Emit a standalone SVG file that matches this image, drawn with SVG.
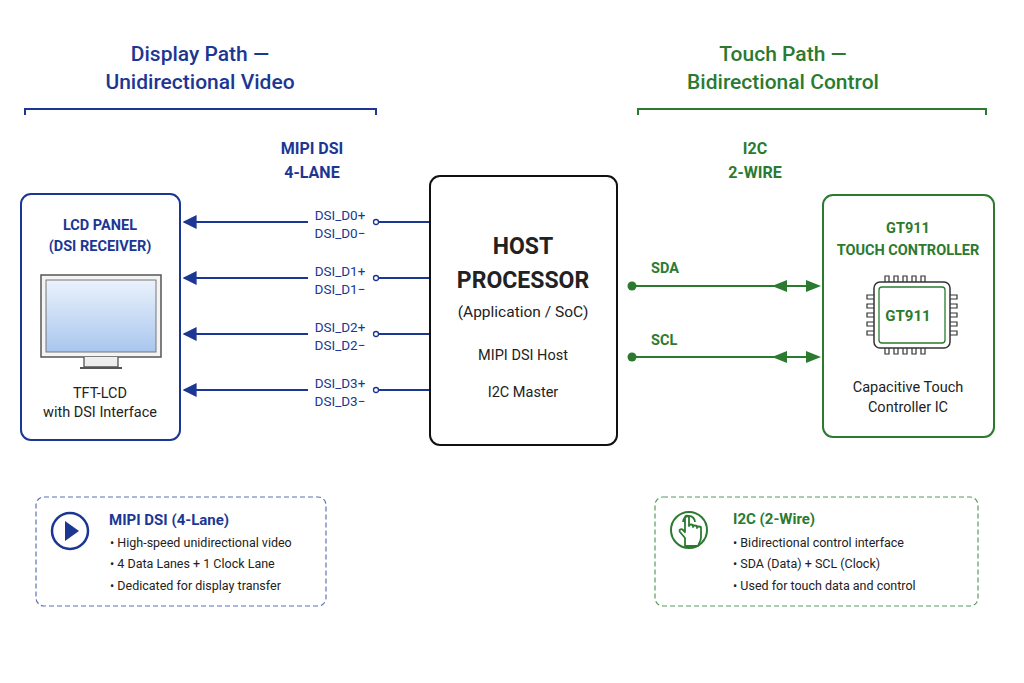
<svg xmlns="http://www.w3.org/2000/svg" width="1024" height="683" viewBox="0 0 1024 683">
<style>
text{font-family:Roboto,"Liberation Sans",sans-serif}
.b{fill:#1c3793}.g{fill:#2b7a30}.k{fill:#222}
.hb{font-size:21px;font-weight:500}
.lb{font-size:16px;font-weight:700}
.sm{font-size:13.5px}
.tx{font-size:14.5px}
.bl{stroke:#1c3793}.gl{stroke:#2b7a30}
</style>
<defs>
<marker id="ab" viewBox="0 0 10 10" refX="9" refY="5" markerWidth="14" markerHeight="14" markerUnits="userSpaceOnUse" orient="auto-start-reverse"><path d="M0,0L10,5L0,10z" fill="#1c3793"/></marker>
<linearGradient id="scr" x1="0" y1="0" x2="0" y2="1"><stop offset="0" stop-color="#eaf2fc"/><stop offset="1" stop-color="#a9c6ee"/></linearGradient>
</defs>
<rect width="1024" height="683" fill="#fff"/>
<g id="headers">
<text x="200" y="61" text-anchor="middle" class="b hb">Display Path —</text>
<text x="200" y="89" text-anchor="middle" class="b hb">Unidirectional Video</text>
<path d="M25,115V109H376V115" fill="none" class="bl" stroke-width="2"/>
<text x="783" y="61" text-anchor="middle" class="g hb">Touch Path —</text>
<text x="783" y="89" text-anchor="middle" class="g hb">Bidirectional Control</text>
<path d="M638,115V109H986V115" fill="none" class="gl" stroke-width="2"/>
<text x="312" y="154" text-anchor="middle" class="b lb">MIPI DSI</text>
<text x="312" y="178" text-anchor="middle" class="b lb">4-LANE</text>
<text x="755" y="154" text-anchor="middle" class="g lb">I2C</text>
<text x="755" y="178" text-anchor="middle" class="g lb">2-WIRE</text>
</g>
<g id="connectors" fill="none" stroke-width="2">
<g class="bl">
<path d="M308,222H184" marker-end="url(#ab)"/><path d="M379,222H430"/>
<path d="M308,278H184" marker-end="url(#ab)"/><path d="M379,278H430"/>
<path d="M308,334H184" marker-end="url(#ab)"/><path d="M379,334H430"/>
<path d="M308,390H184" marker-end="url(#ab)"/><path d="M379,390H430"/>
<circle cx="376" cy="222" r="2.5" fill="#fff" stroke-width="1.3"/>
<circle cx="376" cy="278" r="2.5" fill="#fff" stroke-width="1.3"/>
<circle cx="376" cy="334" r="2.5" fill="#fff" stroke-width="1.3"/>
<circle cx="376" cy="390" r="2.5" fill="#fff" stroke-width="1.3"/>
</g>
<g class="b sm">
<text x="340" y="220" text-anchor="middle" stroke="none">DSI_D0+</text><text x="340" y="238" text-anchor="middle" stroke="none">DSI_D0−</text>
<text x="340" y="276" text-anchor="middle" stroke="none">DSI_D1+</text><text x="340" y="294" text-anchor="middle" stroke="none">DSI_D1−</text>
<text x="340" y="332" text-anchor="middle" stroke="none">DSI_D2+</text><text x="340" y="350" text-anchor="middle" stroke="none">DSI_D2−</text>
<text x="340" y="388" text-anchor="middle" stroke="none">DSI_D3+</text><text x="340" y="406" text-anchor="middle" stroke="none">DSI_D3−</text>
</g>
<g class="gl">
<path d="M632,286H815"/>
<path d="M632,357H815"/>
</g>
<g fill="#2b7a30">
<path d="M772,286L787,280V292z"/><path d="M821,286L806,280V292z"/>
<path d="M772,357L787,351V363z"/><path d="M821,357L806,351V363z"/>
<circle cx="632" cy="286" r="4.5"/>
<circle cx="632" cy="357" r="4.5"/>
</g>
<text x="651" y="273" class="g" font-size="14.5" font-weight="700">SDA</text>
<text x="651" y="345" class="g" font-size="14.5" font-weight="700">SCL</text>
</g>
<g id="lcd">
<rect x="21" y="194" width="159" height="246" rx="10" fill="#fff" class="bl" stroke-width="2"/>
<text x="100" y="230" text-anchor="middle" class="b" font-size="14.5" font-weight="700">LCD PANEL</text>
<text x="100" y="251" text-anchor="middle" class="b" font-size="14.5" font-weight="700">(DSI RECEIVER)</text>
<rect x="41" y="275" width="120" height="82" fill="#f4f4f4" stroke="#555" stroke-width="1.5"/>
<rect x="46" y="280" width="110" height="72" fill="url(#scr)" stroke="#777" stroke-width="1"/>
<path d="M84,357V367H118V357" fill="#eee" stroke="#555" stroke-width="1.3"/>
<path d="M80,368H122" stroke="#555" stroke-width="2"/>
<text x="100" y="398" text-anchor="middle" class="k tx">TFT-LCD</text>
<text x="100" y="417" text-anchor="middle" class="k tx">with DSI Interface</text>
</g>
<g id="host">
<rect x="430" y="176" width="187" height="269" rx="10" fill="#fff" stroke="#111" stroke-width="2"/>
<text x="523" y="254" text-anchor="middle" class="k" font-size="23" font-weight="700">HOST</text>
<text x="523" y="288" text-anchor="middle" class="k" font-size="23" font-weight="700">PROCESSOR</text>
<text x="523" y="317" text-anchor="middle" class="k" font-size="15.5">(Application / SoC)</text>
<text x="523" y="360" text-anchor="middle" class="k" font-size="14.5">MIPI DSI Host</text>
<text x="523" y="397" text-anchor="middle" class="k" font-size="14.5">I2C Master</text>
</g>
<g id="touch">
<rect x="823" y="195" width="171" height="242" rx="10" fill="#fff" class="gl" stroke-width="2"/>
<text x="908" y="233" text-anchor="middle" class="g" font-size="14.5" font-weight="700">GT911</text>
<text x="908" y="255" text-anchor="middle" class="g" font-size="14.5" font-weight="700">TOUCH CONTROLLER</text>
<g fill="#fff" stroke="#333" stroke-width="1.2">
<path d="M885,282v-6h4v6M894,282v-6h4v6M903,282v-6h4v6M912,282v-6h4v6M921,282v-6h4v6"/>
<path d="M885,348v6h4v-6M894,348v6h4v-6M903,348v6h4v-6M912,348v6h4v-6M921,348v6h4v-6"/>
<path d="M874,295h-7v4h7M874,304h-7v4h7M874,313h-7v4h7M874,322h-7v4h7M874,331h-7v4h7"/>
<path d="M950,295h7v4h-7M950,304h7v4h-7M950,313h7v4h-7M950,322h7v4h-7M950,331h7v4h-7"/>
<rect x="874" y="282" width="76" height="66" rx="6" stroke-width="1.5"/>
<rect x="879" y="287" width="66" height="56" rx="3" stroke="#2b7a30" stroke-width="1.3"/>
</g>
<text x="908" y="321" text-anchor="middle" class="g" font-size="15" font-weight="700">GT911</text>
<text x="908" y="392" text-anchor="middle" class="k tx">Capacitive Touch</text>
<text x="908" y="412" text-anchor="middle" class="k tx">Controller IC</text>
</g>
<g id="info-dsi">
<rect x="36" y="497" width="290" height="109" rx="8" fill="#fff" stroke="#5b72b8" stroke-width="1.2" stroke-dasharray="5 3"/>
<circle cx="70" cy="531" r="18" fill="none" class="bl" stroke-width="2.5"/>
<path d="M65,521L79,531L65,541z" fill="#1c3793"/>
<text x="109" y="525" class="b" font-size="15" font-weight="700">MIPI DSI (4-Lane)</text>
<g class="k" font-size="12.5">
<text x="110" y="547">•  High-speed unidirectional video</text>
<text x="110" y="568">•  4 Data Lanes + 1 Clock Lane</text>
<text x="110" y="590">•  Dedicated for display transfer</text>
</g>
</g>
<g id="info-i2c">
<rect x="655" y="497" width="323" height="109" rx="8" fill="#fff" stroke="#5a9a5e" stroke-width="1.2" stroke-dasharray="5 3"/>
<circle cx="689" cy="530" r="18" fill="none" class="gl" stroke-width="2"/>
<path d="M685,546v-8l-5,-6c-1.5,-2 1,-4 3,-2l2,2v-14c0,-3 4,-3 4,0v8c0,-2 4,-2 4,0v1c0,-2 4,-2 4,0v1c0,-2 4,-2 4,0v9c0,4 -2,6 -3,9z M683,522a6,6 0 1 1 12,0" fill="#fff" class="gl" stroke-width="1.8" stroke-linejoin="round"/>
<text x="733" y="524" class="g" font-size="15" font-weight="700">I2C (2-Wire)</text>
<g class="k" font-size="12.5">
<text x="733" y="547">•  Bidirectional control interface</text>
<text x="733" y="568">•  SDA (Data) + SCL (Clock)</text>
<text x="733" y="590">•  Used for touch data and control</text>
</g>
</g>
</svg>
